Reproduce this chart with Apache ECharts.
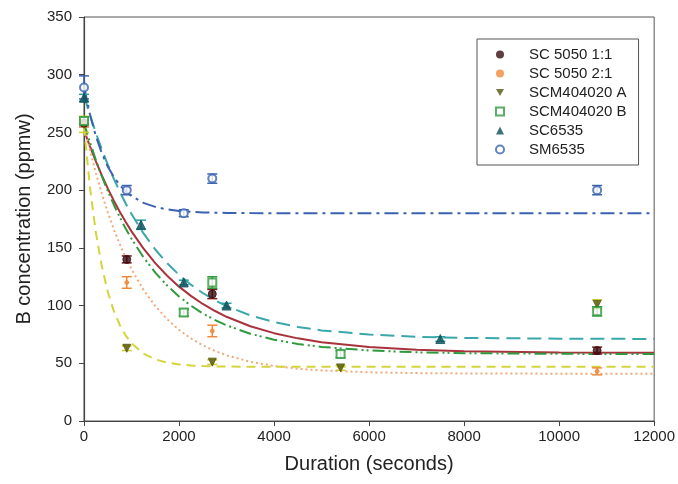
<!DOCTYPE html>
<html><head><meta charset="utf-8">
<script src="https://cdn.jsdelivr.net/npm/echarts@6/dist/echarts.min.js"></script>
<style>html,body{margin:0;padding:0;background:#fff}#c{width:678px;height:484px}</style>
</head><body><div id="c"></div>
<script>
// Measured points (x seconds, y ppmw, error)
const namesList = ['SC 5050 1:1','SC 5050 2:1','SCM404020 A','SCM404020 B','SC6535','SM6535'];
const sc5050_11_x = [0, 900, 2700, 10800];
const sc5050_11_y = [258, 140, 110, 61];
const sc5050_11_e = [3, 3, 4, 3];
const sc5050_21_x = [0, 900, 2700, 10800];
const sc5050_21_y = [258, 120, 78, 43];
const sc5050_21_e = [3, 5, 5, 3];
const scmA_x = [0, 900, 2700, 5400, 10800];
const scmA_y = [257, 63, 51, 46, 101];
const scmA_e = [7, 2, 2, 2, 4];
const scmB_x = [0, 2100, 2700, 5400, 10800];
const scmB_y = [260, 94, 120, 58, 95];
const scmB_e = [3, 3, 5, 3, 4];
const sc6535_x = [0, 1200, 2100, 3000, 7500];
const sc6535_y = [280, 170, 120, 100, 71];
const sc6535_e = [3, 4, 2, 2, 2];
const sm6535_x = [0, 900, 2100, 2700, 10800];
const sm6535_y = [289, 200, 180, 210, 200];
const sm6535_e = [10, 4, 3, 4, 4];

// Fitted curves
const fitX = [0,125,250,375,500,625,750,875,1000,1250,1500,1750,2000,2250,2500,2750,3000,3500,4000,4500,5000,6000,7000,8000,10000,12000];
const fit_sc5050_11 = [252,237.9,224.9,212.8,201.5,191.1,181.5,172.6,164.3,149.5,136.8,125.8,116.4,108.4,101.4,95.5,90.3,82.1,76.1,71.6,68.3,64.1,61.8,60.5,59.4,59.1];
const fit_sc5050_21 = [257,234.8,214.8,196.9,180.8,166.4,153.5,141.9,131.5,113.8,99.6,88.2,79.0,71.5,65.6,60.8,56.9,51.3,47.7,45.3,43.8,42.2,41.5,41.2,41.0,41.0];
const fit_scmA = [255,202.5,163.3,134.0,112.0,95.6,83.4,74.2,67.3,58.4,53.4,50.6,49.0,48.1,47.6,47.3,47.2,47.0,47,47,47,47,47,47,47,47];
const fit_scmB = [258,241.4,226.1,212.1,199.3,187.6,176.8,166.9,157.9,141.9,128.6,117.3,107.9,99.9,93.2,87.6,82.9,75.6,70.4,66.8,64.2,61.1,59.5,58.8,58.2,58.0];
const fit_sc6535 = [282,265.1,249.6,235.3,222.2,210.1,199.0,188.7,179.3,162.7,148.6,136.7,126.6,118.1,110.9,104.7,99.5,91.5,85.7,81.5,78.5,74.9,73.0,72.0,71.3,71.1];
const fit_sm6535 = [290,265.7,246.7,232.0,220.5,211.5,204.5,199.1,194.9,189.0,185.5,183.3,182.0,181.2,180.7,180.5,180.3,180.1,180,180,180,180,180,180,180,180];

const xTicks = [0,2000,4000,6000,8000,10000,12000];
const yTicks = [0,50,100,150,200,250,300,350];

const pts = (xs, ys) => xs.map((x,i)=>[x, ys[i]]);
const errs = (xs, ys, es) => xs.map((x,i)=>[x, ys[i]-es[i], ys[i]+es[i]]);
const fit = (ys) => fitX.map((x,i)=>[x, ys[i]]);

const FONT = 'Liberation Sans, Arial, sans-serif';
const triDown = 'path://M0,0 L10,0 L5,9 Z';

const cfg = [
  {name:namesList[0], x:sc5050_11_x, y:sc5050_11_y, e:sc5050_11_e, fit:fit_sc5050_11,
   symbol:'circle', size:8, item:{color:'#3a0b10', borderColor:'#3a0b10'}, errColor:'#7a1a22',
   line:{color:'#a8333c', width:2, type:'solid'}},
  {name:namesList[1], x:sc5050_21_x, y:sc5050_21_y, e:sc5050_21_e, fit:fit_sc5050_21,
   symbol:'circle', size:4, item:{color:'#f08a3a', borderColor:'#f08a3a'}, errColor:'#f08a3a',
   line:{color:'#f2a878', width:2, type:[2,3]}},
  {name:namesList[2], x:scmA_x, y:scmA_y, e:scmA_e, fit:fit_scmA,
   symbol:triDown, size:8, item:{color:'#55550e', borderColor:'#55550e'}, errColor:'#cfcf30',
   line:{color:'#d4d43c', width:2, type:[9,6]}},
  {name:namesList[3], x:scmB_x, y:scmB_y, e:scmB_e, fit:fit_scmB,
   symbol:'rect', size:8, item:{color:'#ffffff', borderColor:'#2f9a3c', borderWidth:2}, errColor:'#2f9a3c',
   line:{color:'#2f9a3c', width:2, type:[12,4,2,3,2,4]}},
  {name:namesList[4], x:sc6535_x, y:sc6535_y, e:sc6535_e, fit:fit_sc6535,
   symbol:'triangle', size:9, item:{color:'#0c4f57', borderColor:'#0c4f57'}, errColor:'#2f9fa4',
   line:{color:'#3aa8aa', width:2, type:[14,7]}},
  {name:namesList[5], x:sm6535_x, y:sm6535_y, e:sm6535_e, fit:fit_sm6535,
   symbol:'emptyCircle', size:8, item:{color:'#3a62b0', borderColor:'#3a62b0', borderWidth:2}, errColor:'#3a62b0',
   line:{color:'#3a62b0', width:2, type:[14,5,3,5]}}
];

const series = [];
cfg.forEach(c => {
  series.push({type:'line', data:fit(c.fit), showSymbol:false, smooth:false,
    lineStyle:c.line, silent:true, z:2, legendHoverLink:false});
});
cfg.forEach(c => {
  series.push({type:'custom', data:errs(c.x,c.y,c.e), z:3, silent:true,
    renderItem:(params, api) => {
      const x = api.value(0);
      const a = api.coord([x, api.value(1)]);
      const b = api.coord([x, api.value(2)]);
      const w = 5;
      const st = {stroke:c.errColor, lineWidth:1.5, fill:null};
      return {type:'group', children:[
        {type:'line', shape:{x1:a[0],y1:a[1],x2:b[0],y2:b[1]}, style:st},
        {type:'line', shape:{x1:a[0]-w,y1:a[1],x2:a[0]+w,y2:a[1]}, style:st},
        {type:'line', shape:{x1:b[0]-w,y1:b[1],x2:b[0]+w,y2:b[1]}, style:st}
      ]};
    }});
});
cfg.forEach(c => {
  series.push({type:'scatter', name:c.name, data:pts(c.x,c.y), symbol:c.symbol, symbolSize:c.size,
    itemStyle:c.item, z:4});
});

const chart = echarts.init(document.getElementById('c'), null, {renderer:'canvas'});
chart.setOption({
  backgroundColor:'#ffffff',
  animation:false,
  grid:{left:84, right:21, top:17, bottom:63, show:true, borderColor:'#555', borderWidth:1, backgroundColor:'transparent'},
  legend:{
    orient:'vertical', left:477, top:39,
    padding:[8, 12, 8, 18], itemGap:4, itemWidth:8, itemHeight:8,
    backgroundColor:'#fff', borderColor:'#555', borderWidth:1,
    textStyle:{fontFamily:FONT, fontSize:15, color:'#222', lineHeight:15, padding:[0,0,0,20]},
    data:[
      {name:namesList[0], icon:'circle'},
      {name:namesList[1], icon:'circle', itemStyle:{color:'#f08a3a'}},
      {name:namesList[2], icon:triDown},
      {name:namesList[3], icon:'rect', itemStyle:{color:'#fff', borderColor:'#2f9a3c', borderWidth:2}},
      {name:namesList[4], icon:'triangle'},
      {name:namesList[5], icon:'circle', itemStyle:{color:'#fff', borderColor:'#3a62b0', borderWidth:2}}
    ]
  },
  xAxis:{
    type:'value', min:0, max:12000, interval:2000,
    name:'Duration (seconds)', nameLocation:'middle', nameGap:33,
    nameTextStyle:{fontFamily:FONT, fontSize:20, color:'#222'},
    axisLine:{show:true, onZero:false, lineStyle:{color:'#444', width:1.2}},
    axisTick:{show:true, inside:false, length:5, lineStyle:{color:'#444'}},
    axisLabel:{fontFamily:FONT, fontSize:15, color:'#222', margin:8,
      formatter:(v)=> xTicks.includes(v) ? String(v) : ''},
    splitLine:{show:false}
  },
  yAxis:{
    type:'value', min:0, max:350, interval:50,
    name:'B concentration (ppmw)', nameLocation:'middle', nameGap:50,
    nameTextStyle:{fontFamily:FONT, fontSize:20, color:'#222'},
    axisLine:{show:true, onZero:false, lineStyle:{color:'#444', width:1.2}},
    axisTick:{show:true, inside:false, length:5, lineStyle:{color:'#444'}},
    axisLabel:{fontFamily:FONT, fontSize:15, color:'#222', margin:12,
      formatter:(v)=> yTicks.includes(v) ? String(v) : ''},
    splitLine:{show:false}
  },
  series:series
});
</script>
</body></html>
